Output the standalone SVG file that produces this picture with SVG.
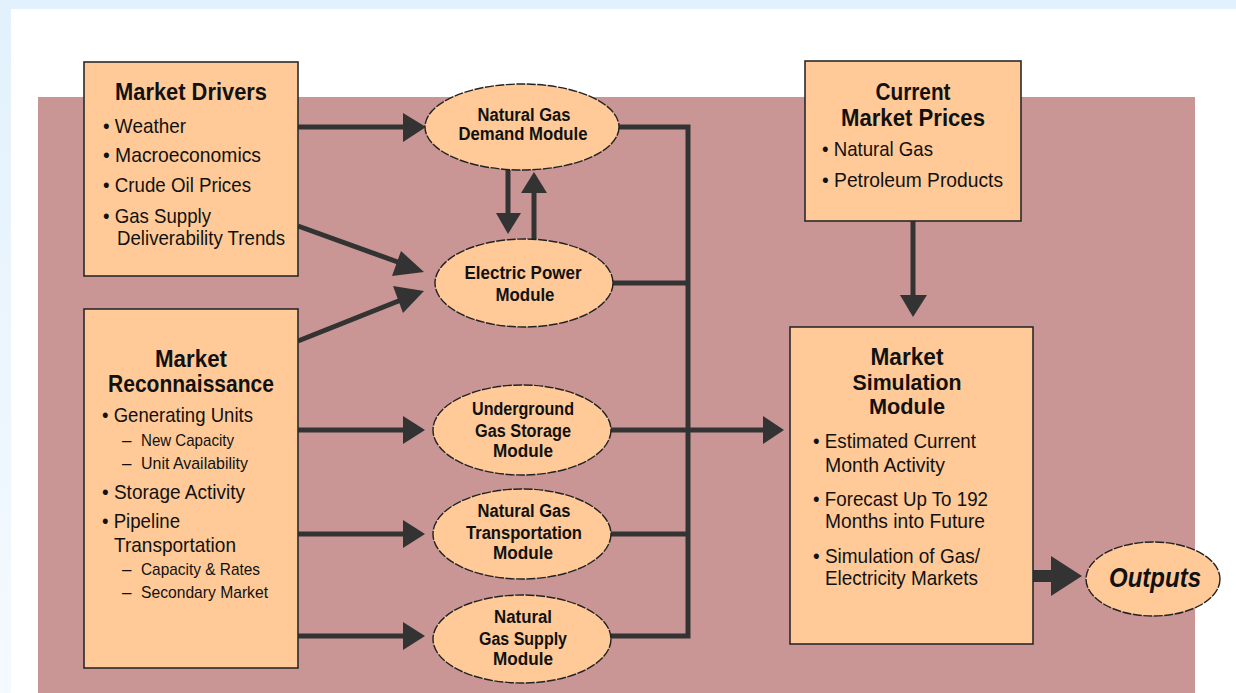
<svg xmlns="http://www.w3.org/2000/svg" width="1236" height="693" viewBox="0 0 1236 693">
<defs>
<linearGradient id="lb" x1="0" y1="0" x2="0" y2="1"><stop offset="0" stop-color="#e2f1fc"/><stop offset="1" stop-color="#f5faff"/></linearGradient>
</defs>
<style>
.box{fill:#ffca98;stroke:#2a2a2a;stroke-width:1.6}
.ell{fill:#ffca98;stroke:#222;stroke-width:1.4;stroke-dasharray:9 1.5}
.t{font-family:"Liberation Sans",Arial,sans-serif;fill:#111}
.h{font-weight:bold;font-size:23px;text-anchor:middle}
.eh{font-weight:bold;font-size:18px;text-anchor:middle}
.b{font-size:21px}
.s{font-size:17px}
.ln{fill:none;stroke:#333;stroke-width:5}
.hd{fill:#333}
</style>
<rect x="0" y="0" width="1236" height="693" fill="url(#lb)"/>
<rect x="11" y="9" width="1225" height="684" fill="#ffffff"/>
<rect x="38" y="97" width="1157" height="596" fill="#c99695"/>

<g id="connectors">
<line class="ln" x1="298" y1="127" x2="405" y2="127"/><path class="hd" d="M403,113 L426,127 L403,142 Z"/>
<line class="ln" x1="298" y1="226" x2="406" y2="265"/><path class="hd" d="M401,251 L424,272 L392,276 Z"/>
<line class="ln" x1="298" y1="341" x2="406" y2="298"/><path class="hd" d="M393,286 L424,291 L403,313 Z"/>
<line class="ln" x1="508" y1="170" x2="508" y2="215"/><path class="hd" d="M496,213 L508,234 L521,213 Z"/>
<line class="ln" x1="534" y1="239" x2="534" y2="190"/><path class="hd" d="M521,193 L534,172 L547,193 Z"/>
<line class="ln" x1="298" y1="430" x2="405" y2="430"/><path class="hd" d="M403,416 L425,430 L403,444 Z"/>
<line class="ln" x1="298" y1="534" x2="405" y2="534"/><path class="hd" d="M403,520 L425,534 L403,548 Z"/>
<line class="ln" x1="298" y1="636" x2="405" y2="636"/><path class="hd" d="M403,622 L425,636 L403,650 Z"/>
<polyline class="ln" points="619,127 688,127 688,636 611,636"/>
<line class="ln" x1="612" y1="283" x2="688" y2="283"/>
<line class="ln" x1="611" y1="534" x2="688" y2="534"/>
<line class="ln" x1="611" y1="430" x2="765" y2="430"/><path class="hd" d="M763,416 L784,430 L763,444 Z"/>
<line class="ln" x1="913" y1="221" x2="913" y2="297"/><path class="hd" d="M900,295 L913,317 L927,295 Z"/>
<line stroke="#333" stroke-width="12" x1="1033" y1="576" x2="1053" y2="576"/><path class="hd" d="M1051,556 L1082,576 L1051,596 Z"/>
</g>

<g id="market-drivers">
<rect class="box" x="84" y="62" width="214" height="214"/>
<text class="t h" x="191" y="100" textLength="152" lengthAdjust="spacingAndGlyphs">Market Drivers</text>
<text class="t b" x="103" y="133" textLength="83" lengthAdjust="spacingAndGlyphs">• Weather</text>
<text class="t b" x="103" y="162" textLength="158" lengthAdjust="spacingAndGlyphs">• Macroeconomics</text>
<text class="t b" x="103" y="192" textLength="148" lengthAdjust="spacingAndGlyphs">• Crude Oil Prices</text>
<text class="t b" x="103" y="223" textLength="108" lengthAdjust="spacingAndGlyphs">• Gas Supply</text>
<text class="t b" x="117" y="245" textLength="168" lengthAdjust="spacingAndGlyphs">Deliverability Trends</text>
</g>

<g id="market-reconnaissance">
<rect class="box" x="84" y="309" width="214" height="359"/>
<text class="t h" x="191" y="367" textLength="72" lengthAdjust="spacingAndGlyphs">Market</text>
<text class="t h" x="191" y="392" textLength="166" lengthAdjust="spacingAndGlyphs">Reconnaissance</text>
<text class="t b" x="102" y="422" textLength="151" lengthAdjust="spacingAndGlyphs">• Generating Units</text>
<text class="t s" x="122" y="446">–<tspan x="141" textLength="93" lengthAdjust="spacingAndGlyphs">New Capacity</tspan></text>
<text class="t s" x="122" y="469">–<tspan x="141" textLength="107" lengthAdjust="spacingAndGlyphs">Unit Availability</tspan></text>
<text class="t b" x="102" y="499" textLength="143" lengthAdjust="spacingAndGlyphs">• Storage Activity</text>
<text class="t b" x="102" y="528" textLength="78" lengthAdjust="spacingAndGlyphs">• Pipeline</text>
<text class="t b" x="114" y="552" textLength="122" lengthAdjust="spacingAndGlyphs">Transportation</text>
<text class="t s" x="122" y="575">–<tspan x="141" textLength="119" lengthAdjust="spacingAndGlyphs">Capacity &amp; Rates</tspan></text>
<text class="t s" x="122" y="598">–<tspan x="141" textLength="127" lengthAdjust="spacingAndGlyphs">Secondary Market</tspan></text>
</g>

<g id="ng-demand">
<ellipse class="ell" cx="522" cy="127" rx="97" ry="43"/>
<text class="t eh" x="524" y="121" textLength="93" lengthAdjust="spacingAndGlyphs">Natural Gas</text>
<text class="t eh" x="523" y="140" textLength="129" lengthAdjust="spacingAndGlyphs">Demand Module</text>
</g>

<g id="electric-power">
<ellipse class="ell" cx="524" cy="283" rx="89" ry="44"/>
<text class="t eh" x="523" y="279" textLength="117" lengthAdjust="spacingAndGlyphs">Electric Power</text>
<text class="t eh" x="525" y="301" textLength="59" lengthAdjust="spacingAndGlyphs">Module</text>
</g>

<g id="gas-storage">
<ellipse class="ell" cx="522" cy="430" rx="89" ry="45"/>
<text class="t eh" x="523" y="415" textLength="102" lengthAdjust="spacingAndGlyphs">Underground</text>
<text class="t eh" x="523" y="437" textLength="96" lengthAdjust="spacingAndGlyphs">Gas Storage</text>
<text class="t eh" x="523" y="457" textLength="60" lengthAdjust="spacingAndGlyphs">Module</text>
</g>

<g id="gas-transportation">
<ellipse class="ell" cx="522" cy="534" rx="89" ry="45"/>
<text class="t eh" x="524" y="517" textLength="93" lengthAdjust="spacingAndGlyphs">Natural Gas</text>
<text class="t eh" x="524" y="539" textLength="116" lengthAdjust="spacingAndGlyphs">Transportation</text>
<text class="t eh" x="523" y="559" textLength="60" lengthAdjust="spacingAndGlyphs">Module</text>
</g>

<g id="gas-supply">
<ellipse class="ell" cx="522" cy="639" rx="89" ry="44"/>
<text class="t eh" x="523" y="623" textLength="58" lengthAdjust="spacingAndGlyphs">Natural</text>
<text class="t eh" x="523" y="645" textLength="88" lengthAdjust="spacingAndGlyphs">Gas Supply</text>
<text class="t eh" x="523" y="665" textLength="60" lengthAdjust="spacingAndGlyphs">Module</text>
</g>

<g id="current-market-prices">
<rect class="box" x="805" y="61" width="216" height="160"/>
<text class="t h" x="913" y="100" textLength="75" lengthAdjust="spacingAndGlyphs">Current</text>
<text class="t h" x="913" y="126" textLength="144" lengthAdjust="spacingAndGlyphs">Market Prices</text>
<text class="t b" x="822" y="156" textLength="111" lengthAdjust="spacingAndGlyphs">• Natural Gas</text>
<text class="t b" x="822" y="187" textLength="181" lengthAdjust="spacingAndGlyphs">• Petroleum Products</text>
</g>

<g id="market-simulation">
<rect class="box" x="790" y="327" width="243" height="317"/>
<text class="t h" x="907" y="365" font-size="22" textLength="73" lengthAdjust="spacingAndGlyphs">Market</text>
<text class="t h" x="907" y="390" style="font-size:22px" textLength="109" lengthAdjust="spacingAndGlyphs">Simulation</text>
<text class="t h" x="907" y="414" style="font-size:22px" textLength="76" lengthAdjust="spacingAndGlyphs">Module</text>
<text class="t b" x="813" y="448" textLength="163" lengthAdjust="spacingAndGlyphs">• Estimated Current</text>
<text class="t b" x="825" y="472" textLength="120" lengthAdjust="spacingAndGlyphs">Month Activity</text>
<text class="t b" x="813" y="506" textLength="175" lengthAdjust="spacingAndGlyphs">• Forecast Up To 192</text>
<text class="t b" x="825" y="528" textLength="160" lengthAdjust="spacingAndGlyphs">Months into Future</text>
<text class="t b" x="813" y="563" textLength="167" lengthAdjust="spacingAndGlyphs">• Simulation of Gas/</text>
<text class="t b" x="825" y="585" textLength="153" lengthAdjust="spacingAndGlyphs">Electricity Markets</text>
</g>

<g id="outputs">
<ellipse class="ell" cx="1153" cy="579" rx="67" ry="37"/>
<text class="t" x="1155" y="587" font-size="27" font-weight="bold" font-style="italic" text-anchor="middle" textLength="92" lengthAdjust="spacingAndGlyphs">Outputs</text>
</g>
</svg>
